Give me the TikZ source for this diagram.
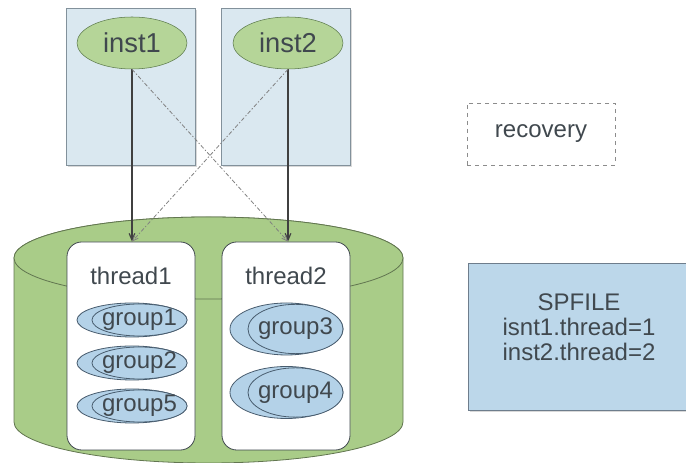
\documentclass[tikz,border=0pt]{standalone}
\usepackage{fontspec}
\setmainfont{Liberation Sans}
\usepackage{tikz}
\usetikzlibrary{shapes.geometric}
\usetikzlibrary{arrows}
\usetikzlibrary{shadows}

\definecolor{hostfill}{RGB}{218,232,240}
\definecolor{hostline}{RGB}{130,145,155}
\definecolor{instfill}{RGB}{181,213,152}
\definecolor{instline}{RGB}{92,122,76}
\definecolor{cylfill}{RGB}{169,204,136}
\definecolor{cylline}{RGB}{98,118,80}
\definecolor{grpfill}{RGB}{180,210,232}
\definecolor{grpline}{RGB}{72,92,110}
\definecolor{spfill}{RGB}{188,215,234}
\definecolor{spline}{RGB}{110,125,140}
\definecolor{textgray}{RGB}{64,72,78}

\begin{document}
\begin{tikzpicture}[x=0.75pt,y=0.75pt,>=angle 45,
  txt/.style={text=textgray,font=\fontsize{18}{19}\selectfont},
  hostbox/.style={draw=hostline,fill=hostfill,minimum width=96.75pt,minimum height=117.75pt,
    drop shadow={shadow xshift=1.5pt,shadow yshift=-1.5pt,opacity=0.3}},
  inst/.style={ellipse,draw=instline,fill=instfill,minimum width=82.5pt,minimum height=39pt,inner sep=0pt,
    text=textgray,font=\fontsize{20.5}{21}\selectfont},
  cyl/.style={draw=cylline,fill=cylfill,line width=0.6pt},
  threadbox/.style={draw=textgray,fill=white,rounded corners=11pt,minimum width=96pt,minimum height=156pt,line width=0.6pt},
  grpback/.style={ellipse,draw=grpline,fill=grpfill,inner sep=0pt,line width=0.6pt},
  link/.style={->,draw=black!75,line width=0.9pt},
  alt/.style={->,draw=black!50,line width=0.6pt,dash pattern=on 3pt off 1.5pt on 1pt off 1.5pt}]
\useasboundingbox (0,0) rectangle (686,463);
\clip (0,0) rectangle (686,463);
% hosts
\node[hostbox] (host1) at (130.5,376.5) {};
\node[hostbox] (host2) at (285.5,376.5) {};
\node[inst] (inst1) at (132,420) {inst1};
\node[inst] (inst2) at (288,420) {inst2};
% shared storage
\draw[cyl] (14,205) -- (14,41) arc[start angle=180,end angle=360,x radius=145.875pt,y radius=30.75pt]
  -- (403,205) arc[start angle=0,end angle=180,x radius=145.875pt,y radius=30.75pt] -- cycle;
\draw[cyl] (208.5,205) ellipse[x radius=145.875pt,y radius=30.75pt];
\node[threadbox] (thread1) at (131,117) {};
\node[threadbox] (thread2) at (286,117) {};
\node[txt] (t1label) at ([yshift=-26pt]thread1.north) {thread1};
\node[txt] (t2label) at ([yshift=-26pt]thread2.north) {thread2};
% groups
\node[grpback,minimum width=82.5pt,minimum height=25.5pt] (g1back) at (132,143) {};
\node[grpback,minimum width=71.25pt,minimum height=24pt,anchor=east,label={[txt]center:group1}] (group1) at (g1back.east) {};
\node[grpback,minimum width=82.5pt,minimum height=25.5pt] (g2back) at (132,100) {};
\node[grpback,minimum width=71.25pt,minimum height=24pt,anchor=east,label={[txt]center:group2}] (group2) at (g2back.east) {};
\node[grpback,minimum width=82.5pt,minimum height=25.5pt] (g5back) at (132,57) {};
\node[grpback,minimum width=71.25pt,minimum height=24pt,anchor=east,label={[txt]center:group5}] (group5) at (g5back.east) {};
\node[grpback,minimum width=84.75pt,minimum height=39pt] (g3back) at (286.5,134) {};
\node[grpback,minimum width=71.25pt,minimum height=37pt,anchor=east,label={[txt]center:group3}] (group3) at (g3back.east) {};
\node[grpback,minimum width=84.75pt,minimum height=39pt] (g4back) at (286.5,70.5) {};
\node[grpback,minimum width=71.25pt,minimum height=37pt,anchor=east,label={[txt]center:group4}] (group4) at (g4back.east) {};
% right side
\node[txt,draw=black!45,dashed,minimum width=111pt,minimum height=46.5pt] (recovery) at (541,329) {recovery};
\node[draw=spline,fill=spfill,minimum width=166.5pt,minimum height=110.25pt,
  drop shadow={shadow xshift=1.5pt,shadow yshift=-1.5pt,opacity=0.3}] (spfile) at (579,126.5) {};
\node[txt,align=center] (sptext) at ([yshift=7pt]spfile.center) {SPFILE\\isnt1.thread=1\\inst2.thread=2};
% connections
\draw[link] (inst1.south) -- (inst1.south |- thread1.north);
\draw[link] (inst2.south) -- (inst2.south |- thread2.north);
\draw[alt] (inst1.south) -- (inst2.south |- thread2.north);
\draw[alt] (inst2.south) -- (inst1.south |- thread1.north);
\end{tikzpicture}
\end{document}
